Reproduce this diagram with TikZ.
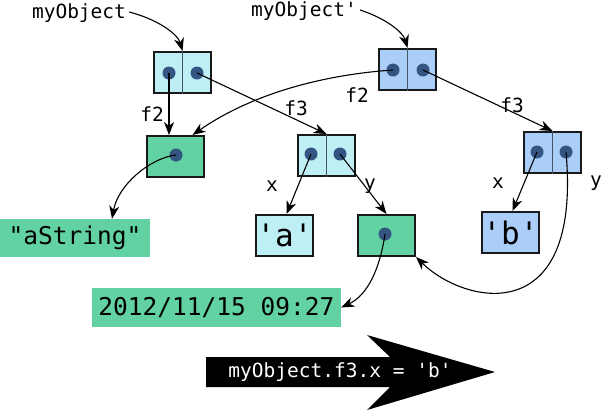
\documentclass[tikz,border=0pt]{standalone}
\usepackage{fontspec}
\setmonofont{DejaVu Sans Mono}
\usetikzlibrary{arrows.meta,calc}
\definecolor{cyanbox}{RGB}{190,239,245}
\definecolor{bluebox}{RGB}{170,206,248}
\definecolor{greenbox}{RGB}{98,210,162}
\definecolor{dotcol}{RGB}{52,84,130}
\definecolor{divcol}{RGB}{70,85,100}
\tikzset{
  obj/.style={draw=black!90, line width=2pt, minimum width=57pt, minimum height=41pt, inner sep=0pt},
  cbox/.style={obj, fill=cyanbox},
  bbox/.style={obj, fill=bluebox},
  gbox/.style={obj, fill=greenbox},
  pdot/.style={circle, fill=dotcol, minimum size=13pt, inner sep=0pt},
  divider/.style={draw=divcol, line width=1.5pt},
  lbl/.style={font=\ttfamily\fontsize{19.5}{22}\selectfont, inner sep=0pt},
  valtxt/.style={fill=greenbox, font=\ttfamily\fontsize{24.5}{28}\selectfont, inner sep=0pt},
  chr/.style={font=\ttfamily\fontsize{31}{34}\selectfont},
  conn/.style={line width=1.1pt, -{Stealth[length=13pt,width=10pt,inset=4pt]}},
}
\begin{document}
\begin{tikzpicture}[x=1pt,y=-1pt]
\useasboundingbox (0,0) rectangle (601,410);
% object boxes
\node[cbox] (o1) at (182.5,72.5) {};
\draw[divider] (o1.north) -- (o1.south);
\node[pdot] (o1a) at (169,73) {};
\node[pdot] (o1b) at (197,73) {};
\node[bbox] (o2) at (407.5,69.5) {};
\draw[divider] (o2.north) -- (o2.south);
\node[pdot] (o2a) at (393,70) {};
\node[pdot] (o2b) at (423,70) {};
\node[gbox] (g1) at (175.5,156.5) {};
\node[pdot] (g1d) at (176,155) {};
\node[cbox] (c3) at (326.5,155.5) {};
\draw[divider] (c3.north) -- (c3.south);
\node[pdot] (c3a) at (311,154) {};
\node[pdot] (c3b) at (340,154) {};
\node[bbox] (b3) at (552.5,152.5) {};
\draw[divider] (b3.north) -- (b3.south);
\node[pdot] (b3a) at (537,152) {};
\node[pdot] (b3b) at (566,152) {};
\node[cbox,chr] (va) at (284.5,235.5) {'a'};
\node[gbox] (gd) at (386.5,235.5) {};
\node[pdot] (gdd) at (385,234) {};
\node[bbox,chr] (vb) at (510.5,232.5) {'b'};
\node[valtxt, minimum width=150pt, minimum height=38pt] (as) at (75,238) {"aString"};
\node[valtxt, minimum width=249pt, minimum height=39pt] (dt) at (216.5,307.5) {2012/11/15 09:27};
% labels
\node[lbl] (n1) at (79,13) {myObject};
\node[lbl] (n2) at (304,11) {myObject'};
\node[lbl] (f2a) at (152,114) {f2};
\node[lbl] (f3a) at (296,108) {f3};
\node[lbl] (f2b) at (357,95) {f2};
\node[lbl] (f3b) at (512,105) {f3};
\node[lbl] (xa) at (272,186) {x};
\node[lbl] (ya) at (370,186) {y};
\node[lbl] (xb) at (498,183) {x};
\node[lbl] (yb) at (596,183) {y};
% connectors
\draw[conn] ([xshift=3pt,yshift=1pt]n1.east) .. controls (160,20) and (178,35) .. (o1.north);
\draw[conn] ([xshift=3pt,yshift=1pt]n2.east) .. controls (385,18) and (403,32) .. (o2.north);
\draw[conn] (o1a.center) -- (o1a.center |- g1.north);
\draw[conn] (o1b.center) -- (c3.north);
\draw[conn] (o2a.center) .. controls (320,75) and (250,95) .. ([xshift=17pt]g1.north);
\draw[conn] (o2b.center) -- (b3.north);
\draw[conn] (g1d.center) .. controls (150,158) and (118,185) .. ([xshift=37pt]as.north);
\draw[conn] (c3a.center) -- ([xshift=2pt]va.north);
\draw[conn] (c3b.center) -- (gd.north);
\draw[conn] (b3a.center) -- ([xshift=2pt]vb.north);
\draw[conn] (b3b.center) .. controls (582,330) and (465,305) .. (gd.south east);
\draw[conn] (gdd.center) .. controls (380,268) and (368,295) .. (dt.east);
% big arrow
\fill[black] (206,357) -- (390,357) -- (367,335) -- (495,372) -- (367,410) -- (390,387) -- (206,387) -- cycle;
\node[lbl, text=white] (cmd) at (340,372) {myObject.f3.x = 'b'};
\end{tikzpicture}
\end{document}
